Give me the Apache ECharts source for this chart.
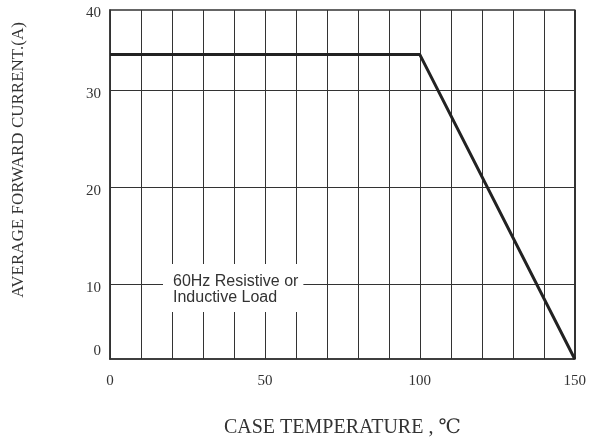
<!DOCTYPE html>
<html>
<head>
<meta charset="utf-8">
<script src="https://cdn.jsdelivr.net/npm/echarts@6/dist/echarts.min.js"></script>
<style>
html,body{margin:0;padding:0;background:#fff;}
#chart{width:589px;height:447px;}
</style>
</head>
<body>
<div id="chart"></div>
<script>
// Case temperature (°C) and average forward current (A)
const temps = [0, 100, 150];
const currents = [33.7, 33.7, 2.3];

// y axis range as drawn (grid lines at 10/20/30)
const Y_MIN = 2.3;
const Y_MAX = 38.3;
const yGridValues = [10, 20, 30];
const yLabelPos = [3.5, 10, 20, 30, 38.3];
const yLabelText = ['0', '10', '20', '30', '40'];
const xLabelValues = [0, 50, 100, 150];

const noteText = '60Hz Resistive or\nInductive Load';
const xName = 'CASE TEMPERATURE , ℃';
const yName = 'AVERAGE FORWARD CURRENT.(A)';

const chart = echarts.init(document.getElementById('chart'), null, {renderer: 'canvas'});
const serif = '"Liberation Serif", "DejaVu Serif", serif';
chart.setOption({
  animation: false,
  backgroundColor: '#fff',
  title: {
    text: noteText,
    left: 163, top: 264,
    backgroundColor: '#fff',
    padding: [10, 5, 6, 10],
    textStyle: {fontFamily: '"Liberation Sans", Arial, sans-serif', fontSize: 16, fontWeight: 'normal', color: '#333', lineHeight: 16}
  },
  grid: {left: 110, right: 11, top: 10, bottom: 88, show: true, borderColor: '#333', borderWidth: 1.5, backgroundColor: 'transparent'},
  xAxis: {
    type: 'value', min: 0, max: 150, interval: 10,
    name: xName, nameLocation: 'middle', nameGap: 59,
    nameTextStyle: {fontFamily: serif, fontSize: 20, color: '#333'},
    axisLine: {show: true, lineStyle: {color: '#333', width: 1.5}},
    axisTick: {show: false},
    splitLine: {show: true, lineStyle: {color: '#333', width: 1}},
    axisLabel: {customValues: xLabelValues, fontFamily: serif, fontSize: 15, color: '#333', margin: 15}
  },
  yAxis: {
    type: 'value', min: Y_MIN, max: Y_MAX,
    name: yName, nameLocation: 'middle', nameGap: 83,
    nameTextStyle: {fontFamily: serif, fontSize: 17, color: '#333', padding: [0, 0, 0, 49]},
    axisLine: {show: true, lineStyle: {color: '#333', width: 1.5}},
    axisTick: {show: false, customValues: yGridValues},
    splitLine: {show: true, lineStyle: {color: '#333', width: 1}},
    axisLabel: {
      customValues: yLabelPos,
      formatter: function (v) {
        let best = 0;
        for (let i = 0; i < yLabelPos.length; i++) {
          if (Math.abs(yLabelPos[i] - v) < Math.abs(yLabelPos[best] - v)) best = i;
        }
        return '{a|' + yLabelText[best] + '}';
      },
      rich: {a: {fontFamily: serif, fontSize: 15, color: '#333', padding: [7, 0, 0, 0]}},
      margin: 9
    }
  },
  series: [{
    type: 'line',
    data: temps.map((t, i) => [t, currents[i]]),
    symbol: 'none',
    clip: false,
    lineStyle: {color: '#222', width: 3},
    z: 3
  }]
});
</script>
</body>
</html>
